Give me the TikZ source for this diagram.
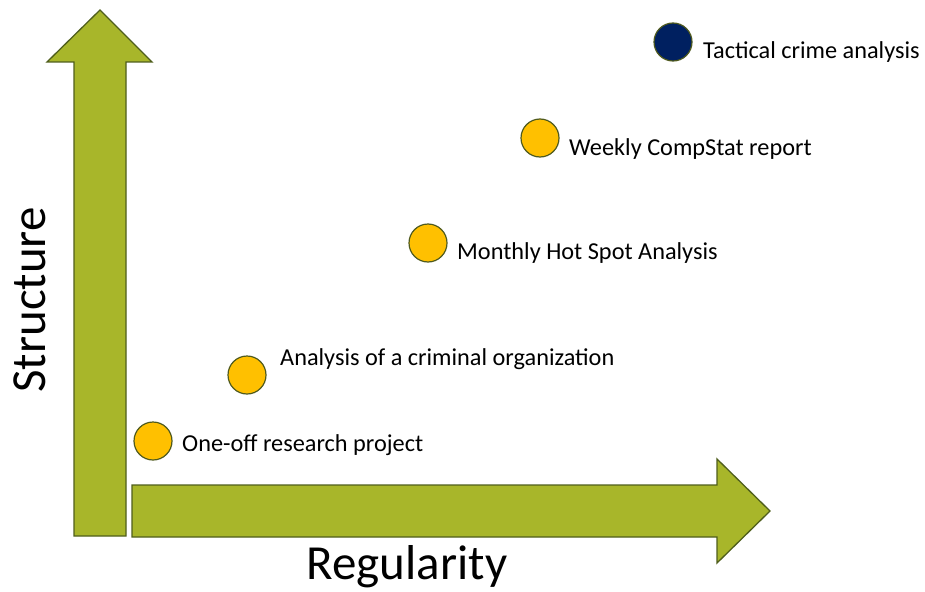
\documentclass[tikz,border=0pt]{standalone}
\usepackage{fontspec}
\setmainfont{Carlito}
\usepackage{tikz}
\usetikzlibrary{positioning}

\definecolor{axisgreen}{HTML}{A8B62A}
\definecolor{axisline}{HTML}{4F5E1C}
\definecolor{dotorange}{HTML}{FFC000}
\definecolor{dotnavy}{HTML}{002060}
\definecolor{dotline}{HTML}{4F5A1E}

\tikzset{
    axisarrow/.style={fill=axisgreen, draw=axisline, line width=1.3pt, line join=miter},
    task/.style={circle, draw=dotline, fill=dotorange, line width=1.2pt, minimum size=38pt, inner sep=0pt},
    tasklabel/.style={anchor=west, inner sep=0pt, font=\fontsize{24.3}{28}\selectfont},
    axislabel/.style={font=\fontsize{49}{54}\selectfont}
}

\begin{document}
\begin{tikzpicture}[x=1pt, y=-1pt]
    \useasboundingbox (0,0) rectangle (925,591);

    % axes
    \draw[axisarrow] (74,536) -- (74,62) -- (47,62) -- (100,10) -- (152,62) -- (126,62) -- (126,536) -- cycle;
    \draw[axisarrow] (132,485) -- (717,485) -- (717,459) -- (770,511) -- (717,563) -- (717,537) -- (132,537) -- cycle;

    \node[axislabel] (regularity) at (407,567) {Regularity};
    \node[axislabel, rotate=90] (structure) at (30,300) {Structure};

    % tasks
    \node[task, fill=dotnavy] (tactical) at (673,42) {};
    \node[task] (weekly) at (540,138) {};
    \node[task] (monthly) at (428,243) {};
    \node[task] (organization) at (247,375) {};
    \node[task] (oneoff) at (153,441) {};

    \node[tasklabel] (tacticalText) at (703,52) {Tactical crime analysis};
    \node[tasklabel] (weeklyText) at (569,149) {Weekly CompStat report};
    \node[tasklabel] (monthlyText) at (457,253) {Monthly Hot Spot Analysis};
    \node[tasklabel] (organizationText) at (280,359) {Analysis of a criminal organization};
    \node[tasklabel] (oneoffText) at (182,445) {One-off research project};
\end{tikzpicture}
\end{document}
